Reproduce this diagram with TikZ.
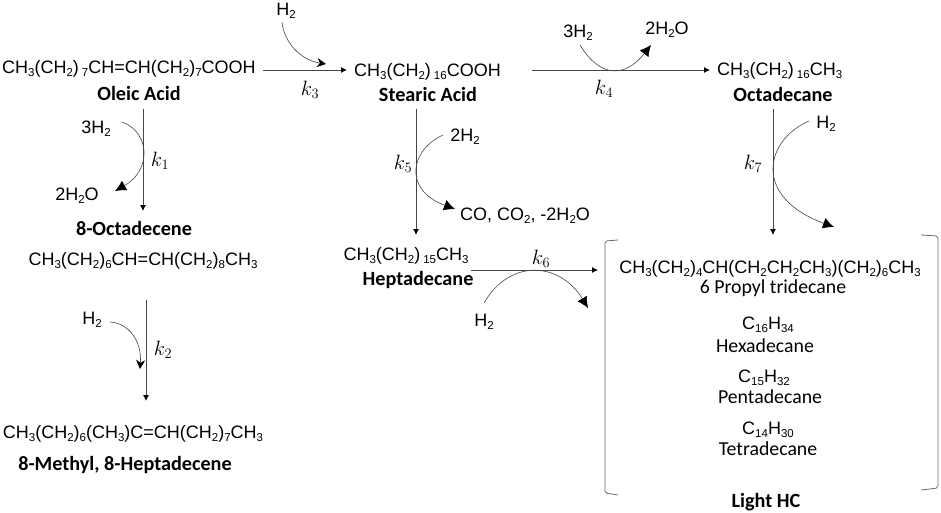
\documentclass[tikz,border=0pt]{standalone}
\usepackage{fontspec}
\usepackage{amsmath}
\setmainfont{Liberation Sans}
\newfontfamily\namefont{Carlito}
\definecolor{rxnline}{RGB}{70, 70, 70}
\usetikzlibrary{arrows.meta,positioning}
\newcommand{\dn}[1]{\raisebox{-0.28ex}{\fontsize{11.5pt}{11.5pt}\selectfont #1}}
\tikzset{
    formula/.style={inner sep=0pt, yshift=-2pt, font=\fontsize{18pt}{20pt}\selectfont},
    species/.style={inner sep=0pt, font=\namefont\fontsize{20.2pt}{22pt}\selectfont\bfseries},
    hcname/.style={inner sep=0pt, font=\namefont\fontsize{19.8pt}{22pt}\selectfont},
    rate/.style={inner sep=0pt, font=\fontsize{21.5pt}{24pt}\selectfont},
    mainarrow/.style={draw=rxnline, line width=0.9pt, -{Latex[length=6pt,width=6pt,color=black]}},
    sidearrow/.style={draw=rxnline, line width=0.6pt, -{Latex[length=11pt,width=11pt,color=black]}},
    smallhead/.style={draw=rxnline, line width=0.6pt, -{Stealth[length=9pt,width=9pt,color=black]}}
}
\begin{document}
\begin{tikzpicture}[x=1pt, y=-1pt]
    \useasboundingbox (0,0) rectangle (941,513);
    % Species
    \node[formula, anchor=west] (oleic) at (2,67) {CH\dn{3}(CH\dn{2})\,\dn{7}CH=CH(CH\dn{2})\dn{7}COOH};
    \node[species] (oleiclbl) at (139,93) {Oleic Acid};
    \node[formula, anchor=west] (stearic) at (354,70) {CH\dn{3}(CH\dn{2})\,\dn{16}COOH};
    \node[species] (stearlbl) at (428,94) {Stearic Acid};
    \node[formula, anchor=west] (octa) at (717,69) {CH\dn{3}(CH\dn{2})\,\dn{16}CH\dn{3}};
    \node[species] (octalbl) at (783,94) {Octadecane};
    \node[species] (ene) at (134,228) {8-Octadecene};
    \node[formula] (enef) at (143,259) {CH\dn{3}(CH\dn{2})\dn{6}CH=CH(CH\dn{2})\dn{8}CH\dn{3}};
    \node[formula] (hepf) at (406,254) {CH\dn{3}(CH\dn{2})\,\dn{15}CH\dn{3}};
    \node[species] (heplbl) at (418,280) {Heptadecane};
    \node[formula] (methf) at (133,432) {CH\dn{3}(CH\dn{2})\dn{6}(CH\dn{3})C=CH(CH\dn{2})\dn{7}CH\dn{3}};
    \node[species] (methlbl) at (125,465) {8-Methyl, 8-Heptadecene};

    % Light HC group
    \node[formula] (propf) at (770,267) {CH\dn{3}(CH\dn{2})\dn{4}CH(CH\dn{2}CH\dn{2}CH\dn{3})(CH\dn{2})\dn{6}CH\dn{3}};
    \node[hcname] (prop) at (773,288) {6 Propyl tridecane};
    \node[formula] (c16) at (768,323) {C\dn{16}H\dn{34}};
    \node[hcname] (hexa) at (765,346) {Hexadecane};
    \node[formula] (c15) at (764,376) {C\dn{15}H\dn{32}};
    \node[hcname] (penta) at (770,397) {Pentadecane};
    \node[formula] (c14) at (768,428) {C\dn{14}H\dn{30}};
    \node[hcname] (tetra) at (768,449) {Tetradecane};
    \node[species] (light) at (766,502) {Light HC};
    \draw[draw=rxnline!80, line width=0.8pt, rounded corners=2pt] (618,240) -- (605,241) -- (605,493) -- (618,495);
    \draw[draw=rxnline!80, line width=0.8pt, rounded corners=2pt] (921,235) -- (938,236) -- (938,488) -- (921,490);

    % Side reagents
    \node[formula] (hA) at (286,9) {H\dn{2}};
    \node[formula] (wA) at (96,127) {3H\dn{2}};
    \node[formula] (wB) at (77,194) {2H\dn{2}O};
    \node[formula] (hB) at (92,318) {H\dn{2}};
    \node[formula] (hC) at (465,135) {2H\dn{2}};
    \node[formula] (prodC) at (525,214) {CO, CO\dn{2}, -2H\dn{2}O};
    \node[formula] (wC) at (578,31) {3H\dn{2}};
    \node[formula] (wD) at (667,28) {2H\dn{2}O};
    \node[formula] (hD) at (826,122) {H\dn{2}};
    \node[formula] (hE) at (484,320) {H\dn{2}};

    % Rate constants
    \node[rate] (kone) at (160,161) {$k_1$};
    \node[rate] (ktwo) at (163,350) {$k_2$};
    \node[rate] (kthree) at (310,90) {$k_3$};
    \node[rate] (kfour) at (604,89) {$k_4$};
    \node[rate] (kfive) at (403,164) {$k_5$};
    \node[rate] (ksix) at (541,259) {$k_6$};
    \node[rate] (kseven) at (753,164) {$k_7$};

    % Free ends
    \coordinate (a1) at (143,109);
    \coordinate (a2) at (143,211);
    \coordinate (b1) at (146,300);
    \coordinate (b2) at (146,401);
    \coordinate (c1) at (263,70);
    \coordinate (c2) at (347,70);
    \coordinate (d1) at (416,109);
    \coordinate (d2) at (416,235);
    \coordinate (e1) at (532,70);
    \coordinate (e2) at (710,70);
    \coordinate (f1) at (773,109);
    \coordinate (f2) at (773,235);
    \coordinate (g1) at (471,270);
    \coordinate (g2) at (598,270);
    \coordinate (sa) at (282,22);
    \coordinate (sb) at (326,64);
    \coordinate (sc) at (122,122);
    \coordinate (sd) at (115,191);
    \coordinate (se) at (110,322);
    \coordinate (sf) at (140,369);
    \coordinate (sg) at (443,135);
    \coordinate (sh) at (455,209);
    \coordinate (si) at (580,45);
    \coordinate (sj) at (651,45);
    \coordinate (sk) at (809,121);
    \coordinate (sl) at (834,227);
    \coordinate (sm) at (484,303);
    \coordinate (sn) at (588,308);

    % Main arrows
    \draw[mainarrow] (a1) -- (a2);
    \draw[mainarrow] (b1) -- (b2);
    \draw[mainarrow] (c1) -- (c2);
    \draw[mainarrow] (d1) -- (d2);
    \draw[mainarrow] (e1) -- (e2);
    \draw[mainarrow] (f1) -- (f2);
    \draw[mainarrow] (g1) -- (g2);

    % Side arrows
    \draw[smallhead] (sa) .. controls (284,42) and (300,60) .. (sb);
    \draw[sidearrow] (sc) .. controls (150,132) and (152,170) .. (sd);
    \draw[smallhead] (se) .. controls (128,323) and (142,340) .. (sf);
    \draw[sidearrow] (sg) .. controls (410,150) and (403,190) .. (sh);
    \draw[sidearrow] (si) .. controls (600,78) and (625,78) .. (sj);
    \draw[sidearrow] (sk) .. controls (765,140) and (752,197) .. (sl);
    \draw[sidearrow] (sm) .. controls (510,258) and (560,262) .. (sn);
\end{tikzpicture}
\end{document}
